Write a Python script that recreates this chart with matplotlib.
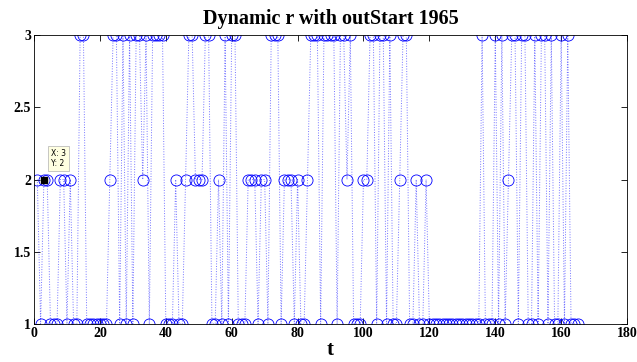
import matplotlib.pyplot as plt
import numpy as np

# r value per year index t
r_values = [
    2, 1, 2, 2, 1, 1, 1, 2, 2, 1, 2, 1, 1, 3, 3, 1, 1, 1, 1, 1,
    1, 1, 2, 3, 3, 1, 3, 1, 3, 1, 3, 3, 2, 3, 1, 3, 3, 3, 3, 1,
    1, 1, 2, 1, 1, 2, 3, 3, 2, 2, 2, 3, 3, 1, 1, 2, 1, 3, 1, 3,
    3, 1, 1, 1, 2, 2, 2, 1, 2, 2, 1, 3, 3, 3, 1, 2, 2, 2, 1, 2,
    1, 1, 2, 3, 3, 3, 1, 3, 3, 3, 3, 1, 3, 3, 2, 3, 1, 1, 1, 2,
    2, 3, 3, 1, 3, 3, 1, 3, 1, 1, 2, 3, 3, 1, 1, 2, 1, 1, 2, 1,
    1, 1, 1, 1, 1, 1, 1, 1, 1, 1, 1, 1, 1, 1, 1, 3, 1, 1, 1, 3,
    1, 3, 1, 2, 3, 3, 1, 3, 3, 1, 1, 3, 1, 3, 3, 1, 3, 1, 1, 3,
    1, 3, 1, 1, 1,
]
t = np.arange(1, len(r_values) + 1)

x_ticks = [0, 20, 40, 60, 80, 100, 120, 140, 160, 180]
y_ticks = [1, 1.5, 2, 2.5, 3]
tip_x, tip_y = 3, 2

plt.rcParams['font.family'] = ['Liberation Serif', 'DejaVu Serif']

fig = plt.figure(figsize=(6.37, 3.62), dpi=100)
ax = fig.add_axes([0.0534, 0.105, 0.931, 0.798])

ax.plot(t, r_values, linestyle=':', color='#0000ff', linewidth=0.7, alpha=0.55)
ax.plot(t, r_values, linestyle='none', marker='o', markersize=8,
        markerfacecolor='none', markeredgecolor='#0000ff', markeredgewidth=0.6)

# data tip
ax.plot([tip_x], [tip_y], marker='s', color='black', markersize=4, zorder=5)
ax.annotate('X: 3\nY: 2', xy=(tip_x, tip_y), xytext=(5, 8), textcoords='offset points',
            fontsize=5.5, family='DejaVu Sans', va='bottom', ha='left',
            bbox=dict(boxstyle='square,pad=0.4', facecolor='#ffffe1', edgecolor='#b0b0b0', linewidth=0.5))

ax.set_xlim(0, 180)
ax.set_ylim(1, 3)
ax.set_xticks(x_ticks)
ax.set_yticks(y_ticks)
ax.set_yticklabels(['1', '1.5', '2', '2.5', '3'])
ax.tick_params(direction='in', length=4, width=0.6, labelsize=10, top=True, right=True, pad=2)
for lbl in ax.get_xticklabels() + ax.get_yticklabels():
    lbl.set_fontweight('bold')
for s in ax.spines.values():
    s.set_linewidth(0.6)

ax.set_title('Dynamic r with outStart 1965', fontsize=14.5, fontweight='bold', pad=8)
ax.set_xlabel('t', fontsize=15, fontweight='bold', labelpad=0)

fig.savefig('out.png', dpi=100)
